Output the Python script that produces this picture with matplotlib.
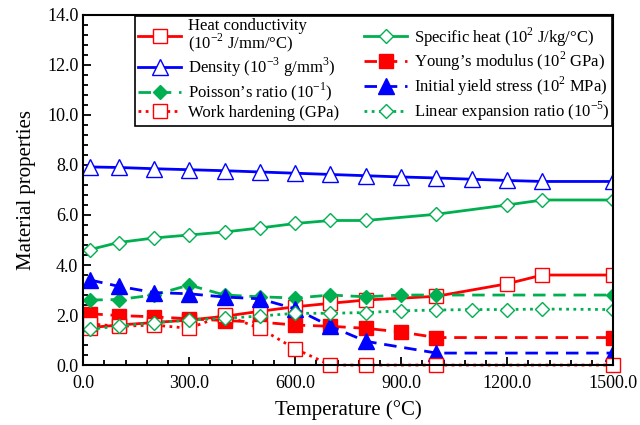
import numpy as np
import matplotlib
matplotlib.use("Agg")
import matplotlib.pyplot as plt
from matplotlib.ticker import MultipleLocator, FormatStrFormatter

plt.rcParams['font.family'] = ['Liberation Serif', 'DejaVu Serif']
plt.rcParams['mathtext.fontset'] = 'custom'
plt.rcParams['mathtext.rm'] = 'Liberation Serif'

# data
t_full = [20, 100, 200, 300, 400, 500, 600, 700, 800, 900, 1000, 1100, 1200, 1300, 1500]
density = [7.92, 7.90, 7.85, 7.81, 7.77, 7.72, 7.67, 7.62, 7.57, 7.52, 7.48, 7.43, 7.38, 7.34, 7.34]
lin_exp = [1.43, 1.56, 1.69, 1.80, 1.87, 1.96, 2.07, 2.07, 2.10, 2.17, 2.20, 2.22, 2.22, 2.24, 2.22]

t_heat = [20, 100, 200, 300, 400, 500, 600, 700, 800, 1000, 1200, 1300, 1500]
heat_cond = [1.50, 1.60, 1.70, 1.80, 1.95, 2.15, 2.33, 2.47, 2.60, 2.75, 3.25, 3.60, 3.60]
spec_heat = [4.62, 4.90, 5.08, 5.20, 5.32, 5.48, 5.66, 5.78, 5.78, 6.03, 6.40, 6.60, 6.60]

t_mech = [20, 100, 200, 300, 400, 500, 600, 700, 800, 900, 1000, 1500]
youngs = [2.05, 1.98, 1.93, 1.85, 1.78, 1.72, 1.60, 1.55, 1.47, 1.32, 1.10, 1.10]
poisson = [2.60, 2.62, 2.80, 3.20, 2.80, 2.73, 2.68, 2.80, 2.73, 2.80, 2.80, 2.80]

t_plast = [20, 100, 200, 300, 400, 500, 600, 700, 800, 1000, 1500]
yield_st = [3.40, 3.15, 2.90, 2.85, 2.72, 2.65, 2.25, 1.55, 0.95, 0.48, 0.48]
work_hard = [1.65, 1.55, 1.60, 1.47, 2.00, 1.47, 0.65, 0.0, 0.0, 0.0, 0.0]

red = '#FF0000'
blue = '#0000FF'
green = '#00B050'

fig = plt.figure(figsize=(6.4, 4.25), dpi=100)
ax = fig.add_axes([0.13, 0.141, 0.828, 0.824])

lw = 2
dash = (0, (4.5, 2.8))
dot = (0, (1, 1.6))

h_heat, = ax.plot(t_heat, heat_cond, color=red, lw=lw, marker='s', ms=10, mfc='white', mec=red, mew=1,
                  label='Heat conductivity\n(10$^{-2}$ J/mm/°C)')
h_spec, = ax.plot(t_heat, spec_heat, color=green, lw=lw, marker='D', ms=7.5, mfc='white', mec=green, mew=1,
                  label='Specific heat (10$^{2}$ J/kg/°C)')
h_dens, = ax.plot(t_full, density, color=blue, lw=lw, marker='^', ms=12, mfc='white', mec=blue, mew=1,
                  label='Density (10$^{-3}$ g/mm$^{3}$)')
h_young, = ax.plot(t_mech, youngs, color=red, lw=lw, ls=dash, marker='s', ms=10, mfc=red, mec=red,
                   label="Young’s modulus (10$^{2}$ GPa)")
h_pois, = ax.plot(t_mech, poisson, color=green, lw=lw, ls=dash, marker='D', ms=7.5, mfc=green, mec=green,
                  label="Poisson’s ratio (10$^{-1}$)")
h_yield, = ax.plot(t_plast, yield_st, color=blue, lw=lw, ls=dash, marker='^', ms=12, mfc=blue, mec=blue,
                   label='Initial yield stress (10$^{2}$ MPa)')
h_work, = ax.plot(t_plast, work_hard, color=red, lw=lw, ls=dot, marker='s', ms=10, mfc='white', mec=red, mew=1,
                  label='Work hardening (GPa)', clip_on=False)
h_lin, = ax.plot(t_full, lin_exp, color=green, lw=lw, ls=dot, marker='D', ms=7.5, mfc='white', mec=green, mew=1,
                 label='Linear expansion ratio (10$^{-5}$)')

ax.set_xlim(0, 1500)
ax.set_ylim(0, 14)
ax.xaxis.set_major_locator(MultipleLocator(300))
ax.xaxis.set_minor_locator(MultipleLocator(60))
ax.yaxis.set_major_locator(MultipleLocator(2))
ax.yaxis.set_minor_locator(MultipleLocator(0.4))
ax.xaxis.set_major_formatter(FormatStrFormatter('%.1f'))
ax.yaxis.set_major_formatter(FormatStrFormatter('%.1f'))
ax.tick_params(which='both', direction='in', top=False, right=False, labelsize=13, width=1.3)
ax.tick_params(axis='x', which='major', pad=7)
ax.tick_params(which='major', length=6)
ax.tick_params(which='minor', length=3.5)
for s in ax.spines.values():
    s.set_linewidth(1.5)

ax.set_xlabel('Temperature (°C)', fontsize=15, labelpad=6)
ax.set_ylabel('Material properties', fontsize=15, labelpad=8)

handles = [h_heat, h_dens, h_pois, h_work, h_spec, h_young, h_yield, h_lin]
leg = ax.legend(handles=handles, ncol=2, loc='upper right', fontsize=12, frameon=True,
                fancybox=False, edgecolor='black', framealpha=1, handlelength=2.6,
                columnspacing=1.5, handletextpad=0.4, labelspacing=0.1, borderpad=0.15,
                borderaxespad=0.05)
leg.get_frame().set_linewidth(1.2)
for txt in leg.get_texts():
    txt.set_linespacing(0.85)

fig.savefig('out.png', dpi=100)
